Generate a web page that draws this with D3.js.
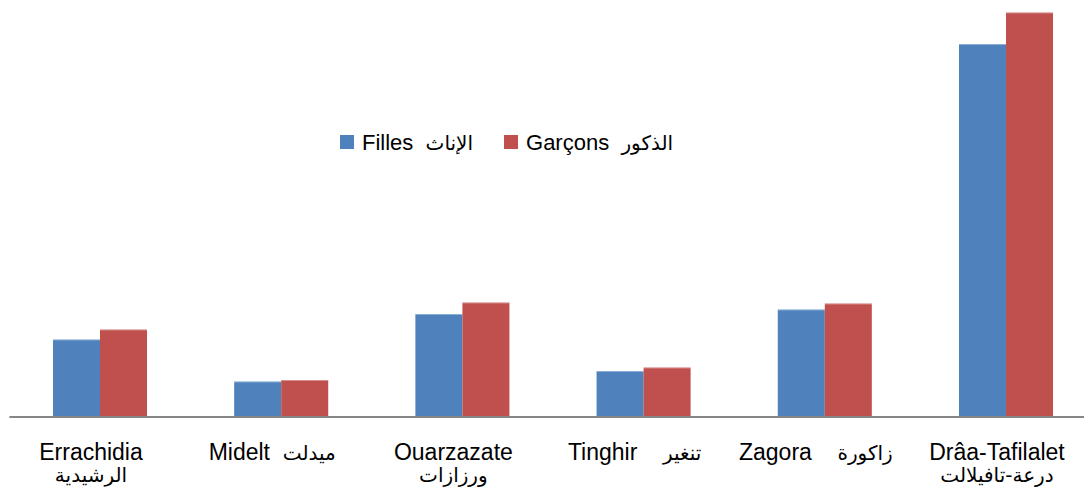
<!DOCTYPE html>
<html>
<head>
<meta charset="utf-8">
<script src="https://cdn.jsdelivr.net/npm/d3@7"></script>
<style>
  body { margin: 0; background: #fff; }
  text { font-family: "Liberation Sans", Arial, "DejaVu Sans", sans-serif; fill: #000; }
  .ar { font-family: "DejaVu Sans", sans-serif; }
</style>
</head>
<body>
<script>
// categories: latin name + arabic name, and whether the label wraps
var categories = ["Errachidia", "Midelt", "Ouarzazate", "Tinghir", "Zagora", "Drâa-Tafilalet"];
var categoriesAr = ["الرشيدية", "ميدلت", "ورزازات", "تنغير", "زاكورة", "درعة-تافيلالت"];
var wrapped = [true, false, true, false, false, true];
var gaps = ["", "\u00a0", "", "\u00a0\u00a0\u00a0", "\u00a0\u00a0\u00a0", ""];

var series = ["Filles", "Garçons"];
var seriesAr = ["الإناث", "الذكور"];
var colors = ["#4F81BD", "#C0504D"];

// values (no axis shown, relative units)
var filles  = [77, 35, 102.5, 45.5, 107, 372.5];
var garcons = [87, 36.5, 114, 49, 113, 404];

var width = 1084, height = 495;
var baseline = 416.5;

var svg = d3.select("body").append("svg")
    .attr("width", width)
    .attr("height", height);

var x0 = d3.scaleBand()
    .domain(categories)
    .range([9.4, 9.4 + 6 * 181.2])
    .paddingInner(0.481)
    .paddingOuter(0.2405);

var x1 = d3.scaleBand()
    .domain(series)
    .range([0, x0.bandwidth()]);

var y = d3.scaleLinear()
    .domain([0, 404])
    .range([baseline, 12.5]);

var rows = categories.map(function(c, i) {
  return { cat: c, vals: [filles[i], garcons[i]] };
});

// bars
var groups = svg.selectAll(".cat")
    .data(rows)
  .enter().append("g")
    .attr("class", "cat")
    .attr("transform", function(d) { return "translate(" + x0(d.cat) + ",0)"; });

groups.selectAll("rect")
    .data(function(d) { return d.vals.map(function(v, j) { return { s: series[j], v: v, j: j }; }); })
  .enter().append("rect")
    .attr("x", function(d) { return x1(d.s); })
    .attr("y", function(d) { return y(d.v); })
    .attr("width", x1.bandwidth())
    .attr("height", function(d) { return baseline - y(d.v); })
    .attr("fill", function(d) { return colors[d.j]; });

// thin lighter edge on top of bars
groups.selectAll("line.edge")
    .data(function(d) { return d.vals.map(function(v, j) { return { s: series[j], v: v, j: j }; }); })
  .enter().append("line")
    .attr("class", "edge")
    .attr("x1", function(d) { return x1(d.s); })
    .attr("x2", function(d) { return x1(d.s) + x1.bandwidth(); })
    .attr("y1", function(d) { return y(d.v) + 0.5; })
    .attr("y2", function(d) { return y(d.v) + 0.5; })
    .attr("stroke", "#fff")
    .attr("stroke-opacity", 0.35);

// category axis line
svg.append("line")
    .attr("x1", x0.range()[0])
    .attr("x2", x0.range()[1])
    .attr("y1", baseline + 0.5)
    .attr("y2", baseline + 0.5)
    .attr("stroke", "#868686")
    .attr("stroke-width", 2);

// category labels
var labelX = function(d) { return x0(d) + x0.bandwidth() / 2 - 9; };

var labels = svg.selectAll(".lbl")
    .data(categories)
  .enter().append("text")
    .attr("class", "lbl")
    .attr("text-anchor", "middle")
    .attr("font-size", 23)
    .attr("x", labelX)
    .attr("y", 460);

labels.each(function(d, i) {
  var t = d3.select(this);
  if (wrapped[i]) {
    t.append("tspan").text(d);
    t.append("tspan")
      .attr("class", "ar")
      .attr("x", labelX(d))
      .attr("dy", 22)
      .attr("font-size", 20)
      .text(categoriesAr[i]);
  } else {
    t.append("tspan").text(d + "\u00a0" + gaps[i]);
    t.append("tspan").attr("class", "ar").attr("font-size", 20).text(categoriesAr[i]);
  }
});

// legend
var legend = svg.append("g").attr("class", "legend");
var lx = 340;
series.forEach(function(s, i) {
  legend.append("rect")
    .attr("x", lx)
    .attr("y", 135)
    .attr("width", 14)
    .attr("height", 14)
    .attr("fill", colors[i]);
  var t = legend.append("text")
    .attr("x", lx + 22)
    .attr("y", 150)
    .attr("font-size", 22);
  t.append("tspan").text(s + "\u00a0\u00a0");
  t.append("tspan").attr("class", "ar").attr("font-size", 20).text(seriesAr[i]);
  lx += 22 + t.node().getComputedTextLength() + 31;
});
</script>
</body>
</html>
